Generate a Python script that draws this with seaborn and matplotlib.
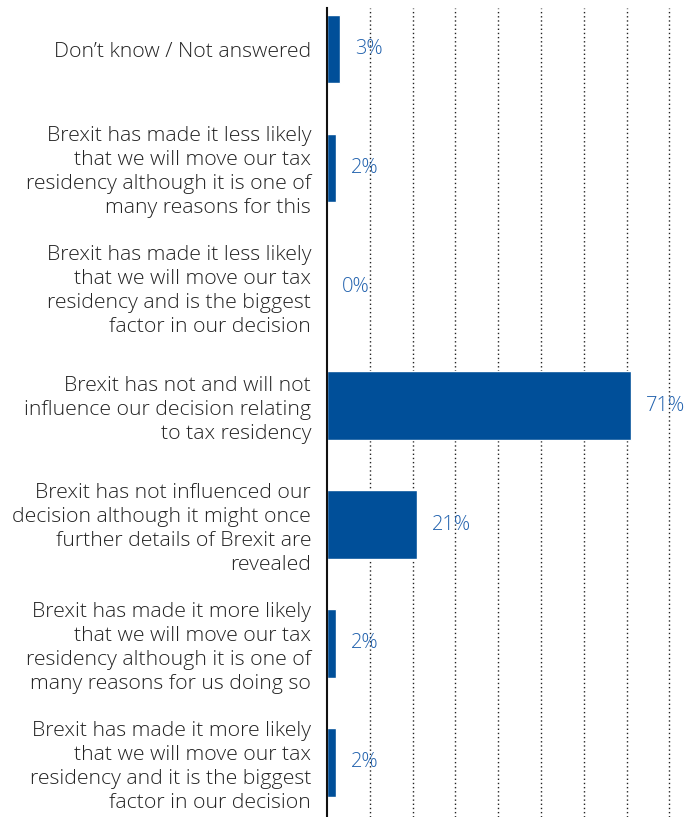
import matplotlib
matplotlib.use("Agg")
import matplotlib.pyplot as plt
import seaborn as sns
import pandas as pd

categories = [
    "Don\u2019t know / Not answered",
    "Brexit has made it less likely\nthat we will move our tax\nresidency although it is one of\nmany reasons for this",
    "Brexit has made it less likely\nthat we will move our tax\nresidency and is the biggest\nfactor in our decision",
    "Brexit has not and will not\ninfluence our decision relating\nto tax residency",
    "Brexit has not influenced our\ndecision although it might once\nfurther details of Brexit are\nrevealed",
    "Brexit has made it more likely\nthat we will move our tax\nresidency although it is one of\nmany reasons for us doing so",
    "Brexit has made it more likely\nthat we will move our tax\nresidency and it is the biggest\nfactor in our decision",
]
values = [3, 2, 0, 71, 21, 2, 2]
grid_ticks = [10, 20, 30, 40, 50, 60, 70, 80]

bar_color = "#004F99"
label_color = "#2262AE"

sns.set_theme(style="white")
plt.rcParams["font.family"] = ["Open Sans", "DejaVu Sans"]

df = pd.DataFrame({"category": categories, "value": values})

fig = plt.figure(figsize=(6.88, 8.17), dpi=100)
ax = fig.add_axes([327 / 688, 0.0, (81 * 4.28) / 688, 1 - 8 / 817])

sns.barplot(data=df, x="value", y="category", orient="h", color=bar_color,
            saturation=1, width=0.578, ax=ax, zorder=3)

ax.set_xlim(0, 81)
ax.set_ylim(6.46, -0.345)
ax.set_xticks(grid_ticks)
ax.set_xticklabels([])
ax.xaxis.grid(True, linestyle=(0, (1, 2)), color="#222222", linewidth=1.0, zorder=0)
ax.yaxis.grid(False)
ax.tick_params(axis="both", length=0)
ax.tick_params(axis="y", pad=11.5, labelsize=15.3, labelcolor="#222222")
for lab in ax.get_yticklabels():
    lab.set_linespacing(1.27)
    lab.set_fontweight("light")
    lab.set_horizontalalignment("right")
ax.set_xlabel("")
ax.set_ylabel("")

for side in ["top", "right", "bottom"]:
    ax.spines[side].set_visible(False)
ax.spines["left"].set_color("#111111")
ax.spines["left"].set_linewidth(1.5)
ax.spines["left"].set_zorder(4)

for i, v in enumerate(values):
    ax.annotate(f"{v}%", xy=(v, i), xytext=(11, 0), textcoords="offset points",
                ha="left", va="center", fontsize=14.5, color=label_color,
                fontweight="light", annotation_clip=False)

fig.savefig("out.png", dpi=100)
